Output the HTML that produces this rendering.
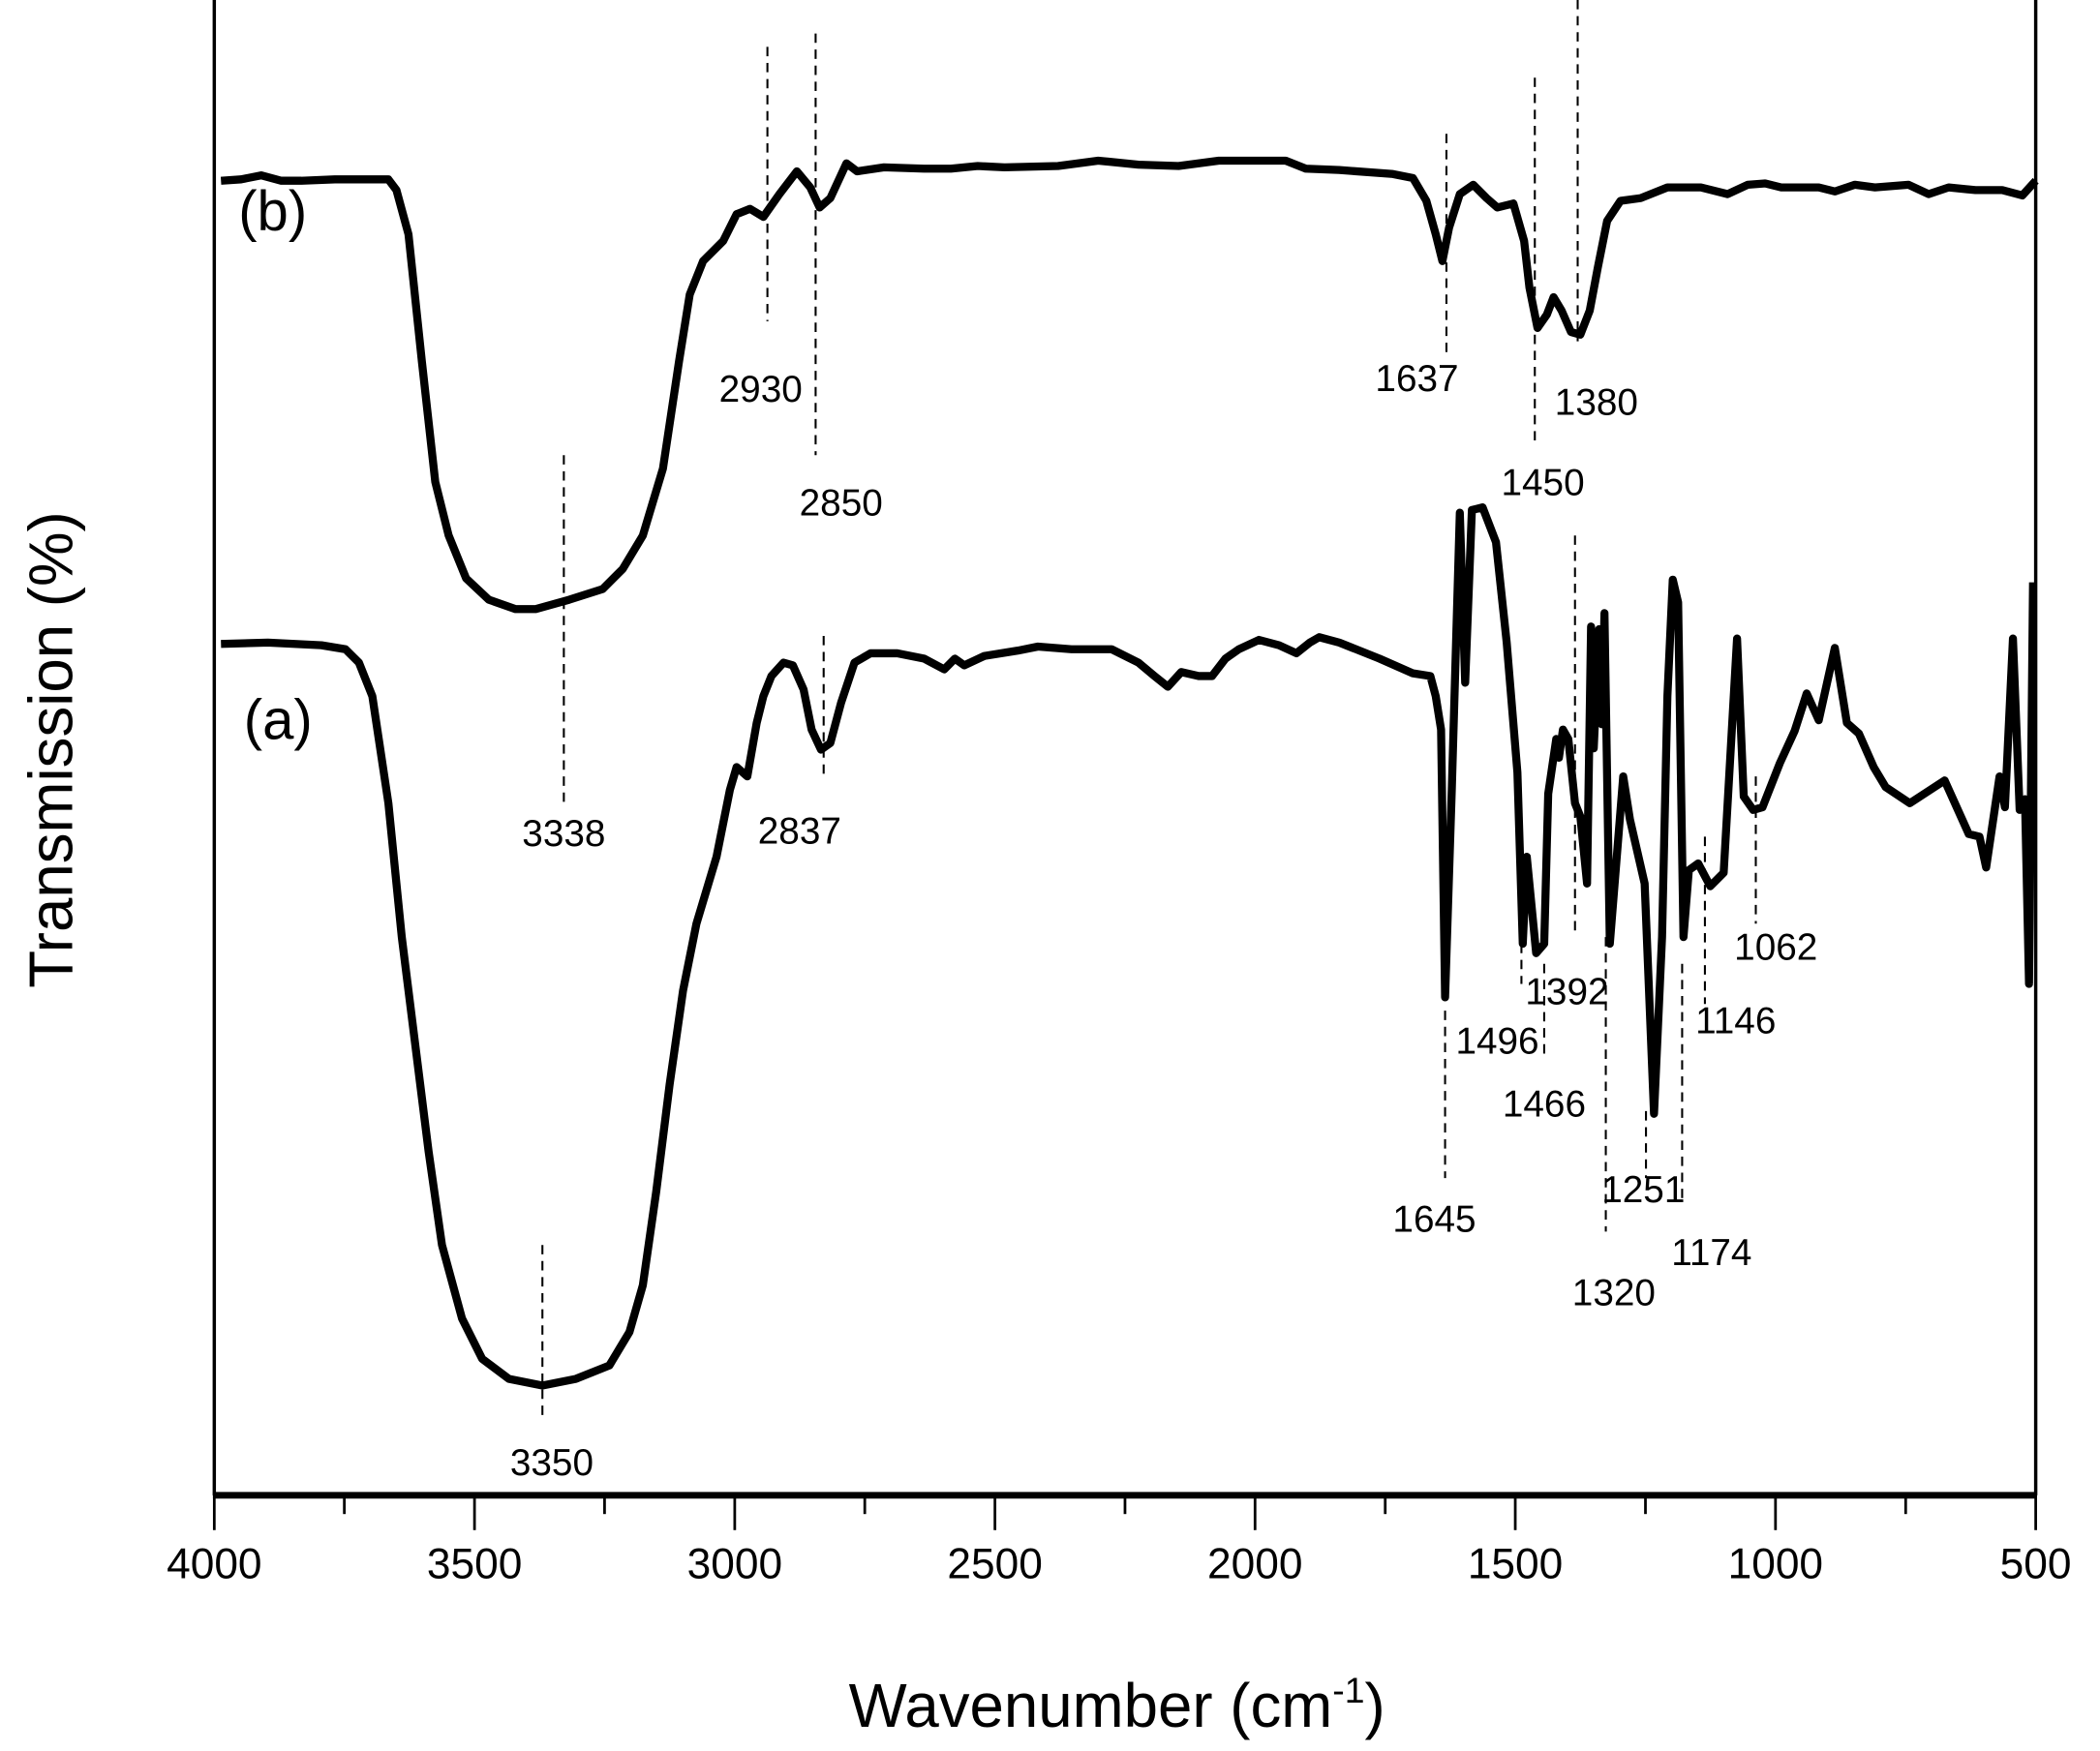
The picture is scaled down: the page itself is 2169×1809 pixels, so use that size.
<!DOCTYPE html>
<html><head><meta charset="utf-8"><style>html,body{margin:0;padding:0;background:#fff}svg{display:block}</style></head>
<body>
<svg width="2169" height="1809" viewBox="0 0 1568 1308" preserveAspectRatio="none" xmlns="http://www.w3.org/2000/svg" font-family="Liberation Sans, sans-serif">
<rect width="1568" height="1308" fill="#fff"/>
<!-- axes -->
<line x1="160" y1="0" x2="160" y2="1117" stroke="#000" stroke-width="2.5"/>
<line x1="1520" y1="0" x2="1520" y2="1117" stroke="#000" stroke-width="2.5"/>
<line x1="159" y1="1117" x2="1521" y2="1117" stroke="#000" stroke-width="5"/>
<g stroke="#000" stroke-width="2">
<line x1="160" y1="1117" x2="160" y2="1143"/><line x1="354.3" y1="1117" x2="354.3" y2="1143"/><line x1="548.6" y1="1117" x2="548.6" y2="1143"/><line x1="742.9" y1="1117" x2="742.9" y2="1143"/><line x1="937.1" y1="1117" x2="937.1" y2="1143"/><line x1="1131.4" y1="1117" x2="1131.4" y2="1143"/><line x1="1325.7" y1="1117" x2="1325.7" y2="1143"/><line x1="1520" y1="1117" x2="1520" y2="1143"/>
<line x1="257.1" y1="1117" x2="257.1" y2="1131"/><line x1="451.4" y1="1117" x2="451.4" y2="1131"/><line x1="645.7" y1="1117" x2="645.7" y2="1131"/><line x1="840" y1="1117" x2="840" y2="1131"/><line x1="1034.3" y1="1117" x2="1034.3" y2="1131"/><line x1="1228.6" y1="1117" x2="1228.6" y2="1131"/><line x1="1422.9" y1="1117" x2="1422.9" y2="1131"/>
</g>
<g font-size="32" text-anchor="middle" fill="#000">
<text x="160" y="1179">4000</text><text x="354.3" y="1179">3500</text><text x="548.6" y="1179">3000</text><text x="742.9" y="1179">2500</text><text x="937.1" y="1179">2000</text><text x="1131.4" y="1179">1500</text><text x="1325.7" y="1179">1000</text><text x="1520" y="1179">500</text>
</g>
<text x="834" y="1290" font-size="46" text-anchor="middle">Wavenumber (cm<tspan dy="-18" font-size="27">-1</tspan><tspan dy="18">)</tspan></text>
<text transform="translate(54,560) rotate(-90)" font-size="46" text-anchor="middle">Transmission (%)</text>
<text x="178" y="172" font-size="42">(b)</text>
<text x="182" y="552" font-size="42">(a)</text>
<!-- curve b -->
<polyline fill="none" stroke="#000" stroke-width="6" stroke-linejoin="round" points="165,135 180,134 195,131 210,135 225,135 250,134 290,134 296,142 305,175 315,270 325,360 335,400 348,432 365,448 385,455 400,455 425,448 450,440 465,425 480,400 495,350 507,270 515,220 525,195 540,180 550,160 560,156 570,162 582,145 595,128 605,140 612,155 620,148 632,122 640,128 660,125 690,126 710,126 730,124 750,125 790,124 820,120 850,123 880,124 910,120 940,120 960,120 975,126 1000,127 1040,130 1055,133 1065,150 1072,175 1077,195 1082,170 1090,145 1100,138 1110,148 1118,155 1130,152 1138,180 1142,215 1148,245 1155,235 1160,222 1166,232 1173,248 1180,250 1187,232 1193,200 1200,165 1210,150 1225,148 1245,140 1270,140 1290,145 1305,138 1318,137 1330,140 1345,140 1358,140 1370,143 1385,138 1400,140 1425,138 1440,145 1455,140 1475,142 1495,142 1510,146 1520,135"/>
<!-- curve a -->
<polyline fill="none" stroke="#000" stroke-width="6" stroke-linejoin="round" points="165,481 200,480 240,482 258,485 268,495 278,520 290,600 300,700 310,780 320,860 330,930 345,985 360,1015 380,1030 405,1035 430,1030 455,1020 470,995 480,960 490,890 500,810 510,740 520,690 535,640 545,590 550,573 558,580 565,540 570,520 576,505 585,495 592,497 600,515 606,545 613,560 620,555 628,525 638,495 650,488 670,488 690,492 705,500 713,492 720,497 735,490 760,486 775,483 800,485 830,485 850,495 862,505 872,513 882,502 895,505 905,505 915,492 925,485 940,478 955,482 968,488 978,480 985,476 1000,480 1030,492 1055,503 1068,505 1072,520 1076,545 1079,745 1084,590 1090,383 1094,510 1099,381 1107,379 1117,405 1125,480 1133,577 1137,705 1140,640 1147,712 1153,705 1156,593 1162,552 1164,566 1167,545 1171,552 1176,600 1180,610 1185,660 1188,468 1190,559 1194,470 1196,541 1198,458 1202,705 1212,580 1217,612 1228,660 1235,832 1241,700 1245,520 1249,433 1253,450 1257,700 1261,650 1268,645 1277,662 1287,652 1297,477 1302,595 1309,605 1316,603 1329,570 1340,546 1349,518 1358,538 1370,484 1379,540 1388,548 1399,573 1408,588 1426,600 1452,583 1470,623 1478,625 1483,648 1493,580 1497,603 1503,477 1508,605 1512,597 1515,735 1518,435"/>
<!-- dashed markers -->
<g stroke="#000" stroke-width="1.5" stroke-dasharray="7,5" fill="none">
<line x1="573" y1="35" x2="573" y2="240"/>
<line x1="609" y1="25" x2="609" y2="340"/>
<line x1="1080" y1="100" x2="1080" y2="265"/>
<line x1="1146" y1="58" x2="1146" y2="330"/>
<line x1="1178" y1="0" x2="1178" y2="255"/>
<line x1="421" y1="340" x2="421" y2="600"/>
<line x1="615" y1="475" x2="615" y2="580"/>
<line x1="405" y1="930" x2="405" y2="1060"/>
<line x1="1079" y1="755" x2="1079" y2="880"/>
<line x1="1136" y1="705" x2="1136" y2="735"/>
<line x1="1153" y1="720" x2="1153" y2="790"/>
<line x1="1176" y1="400" x2="1176" y2="700"/>
<line x1="1199" y1="700" x2="1199" y2="920"/>
<line x1="1229" y1="830" x2="1229" y2="880"/>
<line x1="1256" y1="720" x2="1256" y2="900"/>
<line x1="1273" y1="625" x2="1273" y2="750"/>
<line x1="1311" y1="580" x2="1311" y2="690"/>
</g>
<g font-size="28" text-anchor="middle" fill="#000">
<text x="568" y="300">2930</text>
<text x="628" y="385">2850</text>
<text x="1058" y="292">1637</text>
<text x="1152" y="370">1450</text>
<text x="1192" y="310">1380</text>
<text x="421" y="632">3338</text>
<text x="597" y="630">2837</text>
<text x="412" y="1102">3350</text>
<text x="1071" y="920">1645</text>
<text x="1118" y="787">1496</text>
<text x="1153" y="834">1466</text>
<text x="1170" y="750">1392</text>
<text x="1205" y="975">1320</text>
<text x="1227" y="898">1251</text>
<text x="1278" y="945">1174</text>
<text x="1296" y="772">1146</text>
<text x="1326" y="717">1062</text>
</g>
</svg>
</body></html>
